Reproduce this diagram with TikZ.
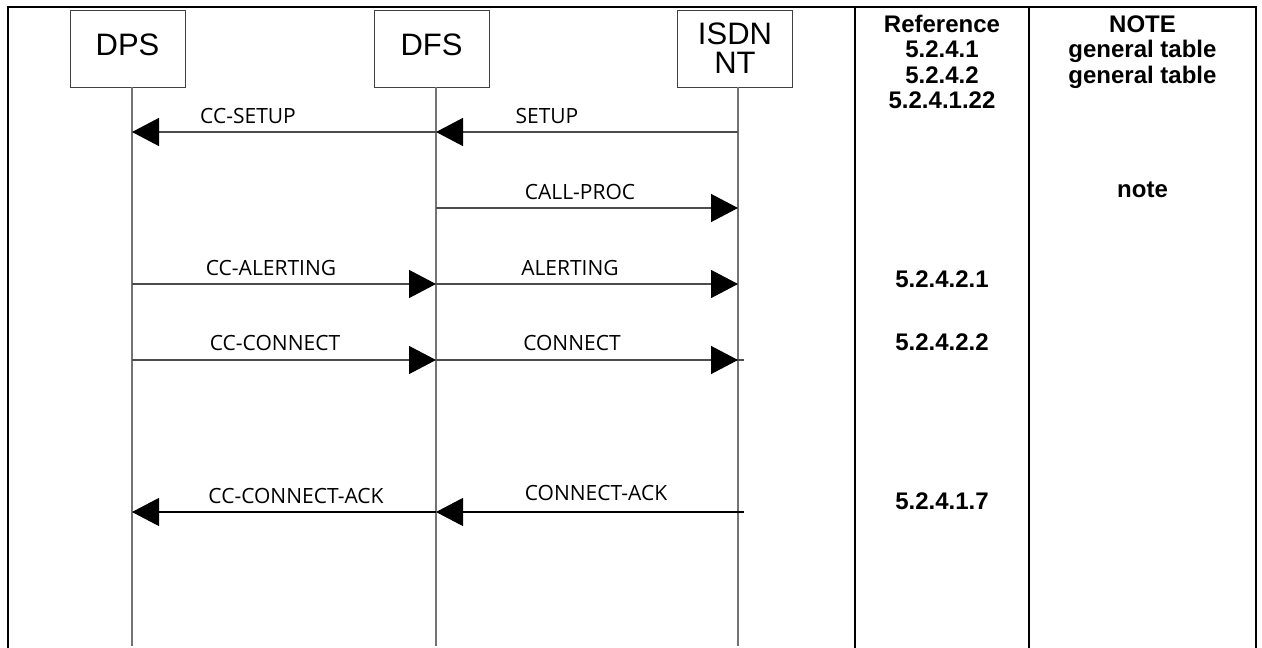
\documentclass[tikz,border=0pt]{standalone}
\usepackage{fontspec}
\setmainfont{Liberation Sans}
\newfontfamily\msgfont{Open Sans}
\usetikzlibrary{arrows.meta}
\begin{document}
\begin{tikzpicture}[x=1pt,y=-1pt,
 entity/.style={draw=black!75,line width=1pt,minimum width=115pt,minimum height=77pt,inner sep=0pt,font=\fontsize{31}{29}\selectfont,align=center},
 oneline/.style={text height=13pt,text depth=0pt},
 lifeline/.style={draw=black!55,line width=1.2pt},
 msgline/.style={draw=black!70,line width=1.3pt},
 msg/.style={msgline,-{Triangle[length=27pt,width=28pt,color=black]}},
 msglbl/.style={font=\msgfont\fontsize{21}{21}\selectfont,inner sep=0pt,anchor=base},
 reftxt/.style={font=\bfseries\fontsize{24}{24}\selectfont,inner sep=0pt,anchor=base},
 framel/.style={line width=2.5pt,draw=black}]
\useasboundingbox (0,0) rectangle (1262,648);
% frame and table columns
\coordinate (fbl) at (8,648);
\coordinate (ftl) at (8,7);
\coordinate (ftr) at (1256,7);
\coordinate (fbr) at (1256,648);
\coordinate (d1t) at (855,7);
\coordinate (d1b) at (855,648);
\coordinate (d2t) at (1029,7);
\coordinate (d2b) at (1029,648);
\draw[framel] (fbl) -- (ftl) -- (ftr) -- (fbr);
\draw[framel] (d1t) -- (d1b);
\draw[framel] (d2t) -- (d2b);
% entities
\node[entity,oneline] (dps) at (127.5,48.5) {DPS};
\node[entity,oneline] (dfs) at (431.5,48.5) {DFS};
\node[entity] (nt) at (735,48.5) {ISDN\\NT};
% lifelines
\coordinate (dpsT) at (132,87);
\coordinate (dpsB) at (132,646);
\coordinate (dfsT) at (436,87);
\coordinate (dfsB) at (436,646);
\coordinate (ntT) at (738,87);
\coordinate (ntB) at (738,646);
\draw[lifeline] (dpsT) -- (dpsB);
\draw[lifeline] (dfsT) -- (dfsB);
\draw[lifeline] (ntT) -- (ntB);
% message rows
\coordinate (a1) at (132,132); \coordinate (b1) at (436,132); \coordinate (c1) at (738,132);
\coordinate (b2) at (436,208); \coordinate (c2) at (738,208);
\coordinate (a3) at (132,284); \coordinate (b3) at (436,284); \coordinate (c3) at (738,284);
\coordinate (a4) at (132,360); \coordinate (b4) at (436,360); \coordinate (c4) at (738,360); \coordinate (e4) at (744,360);
\coordinate (a5) at (132,512); \coordinate (b5) at (436,512); \coordinate (e5) at (744,512);
\draw[msg] (b1) -- (a1);
\draw[msg] (c1) -- (b1);
\draw[msg] (b2) -- (c2);
\draw[msg] (a3) -- (b3);
\draw[msg] (b3) -- (c3);
\draw[msg] (a4) -- (b4);
\draw[msgline] (b4) -- (e4);
\draw[msg] (b4) -- (c4);
\draw[msg,draw=black,line width=1.2pt] (b5) -- (a5);
\draw[msg,draw=black,line width=1.2pt] (e5) -- (b5);
% message labels
\node[msglbl] (l1) at (248,123) {CC-SETUP};
\node[msglbl] (l2) at (547,123) {SETUP};
\node[msglbl] (l3) at (580,199) {CALL-PROC};
\node[msglbl] (l4) at (271,275) {CC-ALERTING};
\node[msglbl] (l5) at (570,275) {ALERTING};
\node[msglbl] (l6) at (275,350) {CC-CONNECT};
\node[msglbl] (l7) at (572,350) {CONNECT};
\node[msglbl] (l8) at (296,503) {CC-CONNECT-ACK};
\node[msglbl] (l9) at (596,500) {CONNECT-ACK};
% reference column
\node[reftxt] (r0) at (942,32) {Reference};
\node[reftxt] (r1) at (942,57) {5.2.4.1};
\node[reftxt] (r2) at (942,83) {5.2.4.2};
\node[reftxt] (r3) at (942,108) {5.2.4.1.22};
\node[reftxt] (r4) at (942,287) {5.2.4.2.1};
\node[reftxt] (r5) at (942,350) {5.2.4.2.2};
\node[reftxt] (r6) at (942,509) {5.2.4.1.7};
% note column
\node[reftxt] (n0) at (1142.5,32) {NOTE};
\node[reftxt] (n1) at (1142.5,57) {general table};
\node[reftxt] (n2) at (1142.5,83) {general table};
\node[reftxt] (n3) at (1142.5,197) {note};
\end{tikzpicture}
\end{document}
